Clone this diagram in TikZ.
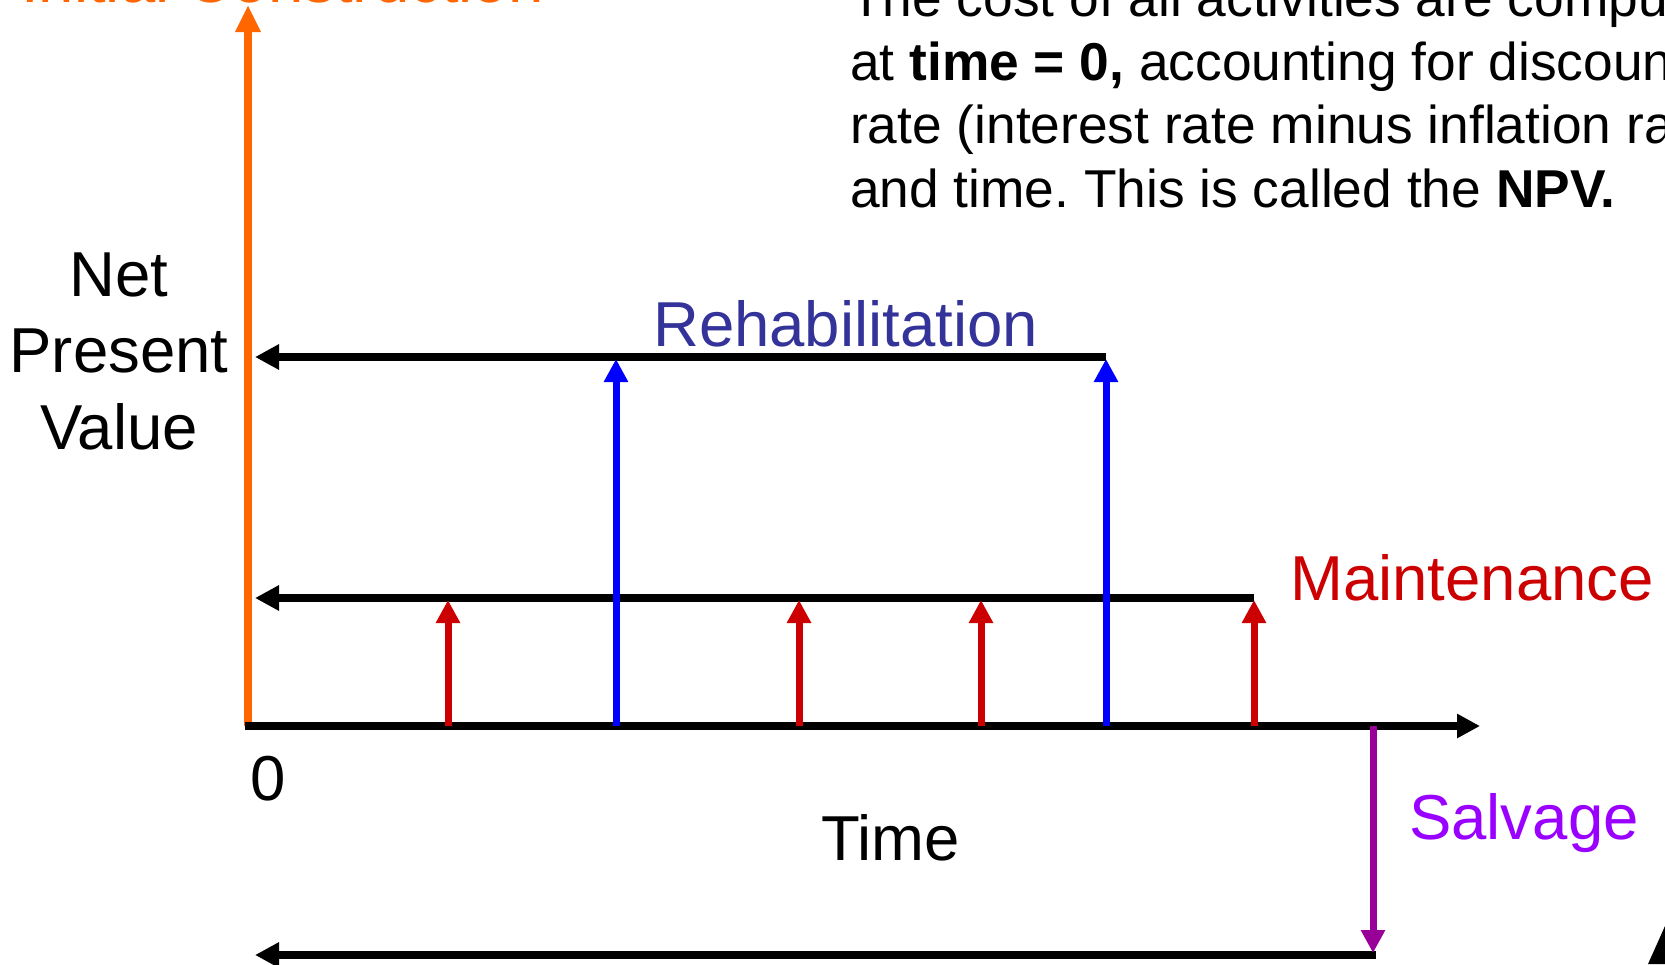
\documentclass[tikz,border=0pt]{standalone}
\usepackage{fontspec}
\setmainfont{Liberation Sans}
\usetikzlibrary{arrows.meta}
\frenchspacing
\definecolor{cOrange}{HTML}{FF6600}
\definecolor{cBlue}{HTML}{0000FF}
\definecolor{cRed}{HTML}{CC0000}
\definecolor{cRehab}{HTML}{333399}
\definecolor{cPurpleLine}{HTML}{990099}
\definecolor{cSalvage}{HTML}{9900FF}
\tikzset{
  bigtxt/.style={font=\fontsize{63.5}{76}\selectfont, inner sep=0pt},
  paratxt/.style={font=\fontsize{53.3}{63}\selectfont, inner sep=0pt, anchor=base west},
  blackline/.style={line width=8pt, black, -{Triangle[length=24pt,width=24pt]}},
  upline/.style={line width=7pt, -{Triangle[length=23pt,width=23pt]}},
}
\begin{document}
\begin{tikzpicture}[x=1pt,y=-1pt]
\useasboundingbox (0,0) rectangle (1665,964);
\clip (0,0) rectangle (1665,964);
\fill[white] (0,0) rectangle (1665,964);

% coordinates
\coordinate (o) at (248,726);
\coordinate (otop) at (248,5);
\coordinate (xend) at (1480,726);
\coordinate (rehL) at (255,357);
\coordinate (rehR) at (1106,357);
\coordinate (mntL) at (255,598);
\coordinate (mntR) at (1254,598);
\coordinate (salTop) at (1373,726);
\coordinate (salBot) at (1373,953);
\coordinate (botL) at (255,955);
\coordinate (botR) at (1373,955);

% axes
\draw[line width=7.5pt, cOrange, -{Triangle[length=27pt,width=24pt]}] (o) -- (otop);
\draw[line width=8pt, black, -{Triangle[length=23pt,width=23pt]}] ([xshift=-3.5pt]o) -- (xend);

% horizontal NPV arrows
\draw[blackline] (rehR) -- (rehL);
\draw[blackline] (mntR) -- (mntL);
\draw[blackline] ([xshift=3pt]botR) -- (botL);

% red maintenance arrows
\foreach \x/\n in {448/m1,799/m2,981/m3,1254/m4}{
  \coordinate (\n b) at (\x,726);
  \coordinate (\n t) at (\x,600);
  \draw[upline, cRed] (\n b) -- (\n t);
}
% blue rehabilitation arrows
\foreach \x/\n in {616/r1,1106/r2}{
  \coordinate (\n b) at (\x,726);
  \coordinate (\n t) at (\x,359);
  \draw[upline, cBlue] (\n b) -- (\n t);
}
% salvage
\draw[upline, cPurpleLine] (salTop) -- (salBot);

% labels
\node[bigtxt, text=cOrange, anchor=base west] (ic) at (21,2) {Initial Construction};
\node[bigtxt, anchor=base] (net) at (119,296) {Net};
\node[bigtxt, anchor=base] (pres) at (119,372) {Present};
\node[bigtxt, anchor=base] (val) at (119,449) {Value};
\node[bigtxt, text=cRehab, anchor=base west] (rehab) at (653,346) {Rehabilitation};
\node[bigtxt, text=cRed, anchor=base west] (maint) at (1290,600) {Maintenance};
\node[bigtxt, text=cSalvage, anchor=base west] (salv) at (1409,839) {Salvage};
\node[bigtxt, anchor=base west] (zero) at (250,800) {0};
\node[bigtxt, anchor=base west] (time) at (821,860) {Time};

\node[paratxt] (p1) at (850,16) {The cost of all activities are computed};
\node[paratxt] (p2) at (850,80) {at \textbf{time = 0,} accounting for discount};
\node[paratxt] (p3) at (850,143) {rate (interest rate minus inflation rate)};
\node[paratxt] (p4) at (850,207) {and time. This is called the \textbf{NPV.}};

% corner fragment
\fill[black] (1648,964) -- (1665,926) -- (1665,964) -- cycle;
\end{tikzpicture}
\end{document}
